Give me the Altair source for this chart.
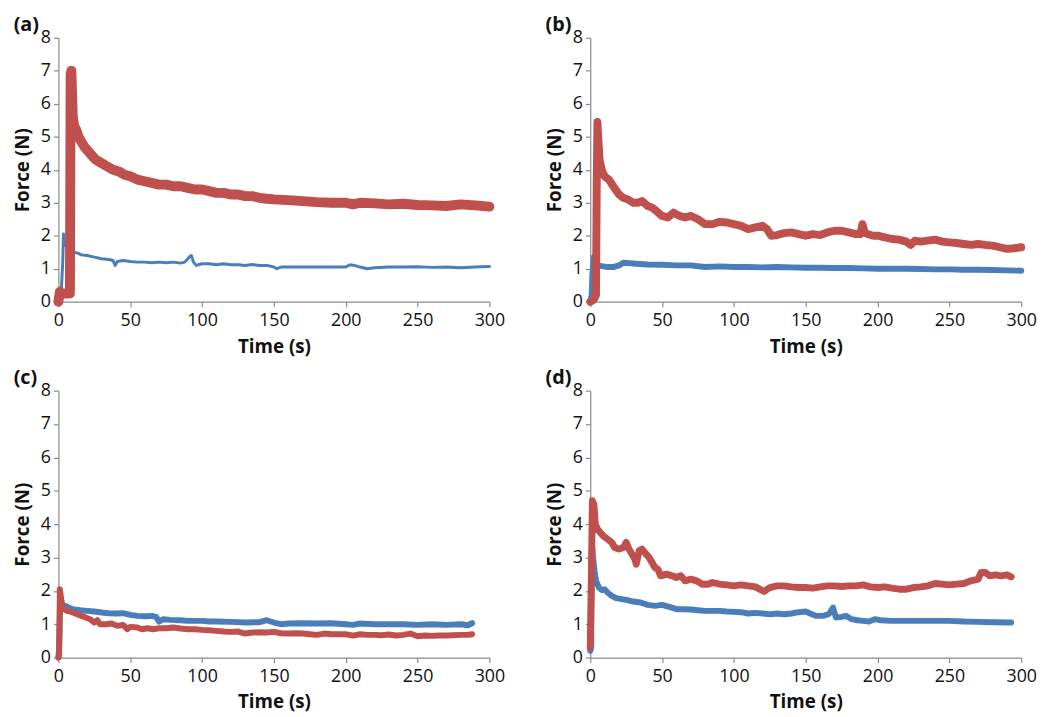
import altair as alt
import pandas as pd

RED = "#c0504d"
BLUE = "#4a7ebb"
FONT = "Open Sans"

x_ticks = [0, 50, 100, 150, 200, 250, 300]
y_ticks = [0, 1, 2, 3, 4, 5, 6, 7, 8]
labels = ["(a)", "(b)", "(c)", "(d)"]

# (time s, force N) pairs
red_a = [(0,0),(1,0.3),(2,0.25),(8,0.25),(8.5,6.9),(9,7.0),(10,5.6),(11,5.3),(12,5.25),(14,5.0),(16,4.85),(18,4.7),
         (20,4.6),(23,4.45),(26,4.3),(30,4.2),(34,4.1),(38,4.0),(42,3.95),(46,3.85),(50,3.8),(55,3.7),(60,3.65),
         (65,3.6),(70,3.55),(75,3.55),(80,3.5),(85,3.5),(90,3.45),(95,3.4),(100,3.4),(105,3.35),(110,3.3),(115,3.3),
         (120,3.25),(125,3.25),(130,3.2),(135,3.2),(140,3.15),(145,3.12),(150,3.1),(160,3.08),(170,3.05),(180,3.02),
         (190,3.0),(200,3.0),(205,2.95),(210,3.0),(220,2.98),(230,2.95),(240,2.97),(250,2.93),(260,2.92),(270,2.9),
         (280,2.95),(290,2.92),(300,2.88)]
blue_a = [(0,0),(1,0.3),(2,0.3),(3,1.2),(3.5,2.05),(4,1.9),(5,1.7),(6,1.65),(8,1.55),(10,1.5),(13,1.48),(16,1.42),
          (20,1.4),(25,1.35),(30,1.3),(35,1.28),(38,1.25),(39.5,1.1),(41,1.22),(45,1.25),(50,1.22),(55,1.2),(60,1.2),
          (65,1.18),(70,1.2),(75,1.18),(80,1.2),(85,1.17),(88,1.2),(91,1.35),(92.5,1.4),(94,1.2),(96,1.1),(100,1.15),
          (105,1.15),(110,1.12),(115,1.15),(120,1.12),(125,1.12),(130,1.1),(135,1.13),(140,1.1),(145,1.1),(150,1.05),
          (152,1.0),(155,1.05),(160,1.05),(170,1.05),(180,1.05),(190,1.05),(200,1.05),(203,1.12),(206,1.1),(210,1.05),
          (215,1.0),(220,1.03),(230,1.05),(240,1.05),(250,1.06),(260,1.04),(270,1.05),(280,1.03),(290,1.05),(300,1.07)]

red_b = [(0,0),(2,0.05),(3,0.1),(4,0.2),(4.5,3.5),(5,5.45),(5.5,5.0),(6.5,4.3),(8,4.0),(10,3.8),(13,3.7),(16,3.5),
         (20,3.25),(23,3.15),(26,3.1),(30,3.0),(33,3.0),(36,3.05),(40,2.9),(43,2.85),(46,2.75),(50,2.6),(54,2.55),
         (58,2.7),(62,2.6),(66,2.55),(70,2.6),(75,2.5),(80,2.35),(85,2.35),(90,2.42),(95,2.4),(100,2.35),(105,2.3),
         (110,2.2),(115,2.25),(120,2.3),(123,2.2),(126,2.0),(130,2.02),(135,2.08),(140,2.1),(145,2.05),(150,2.0),
         (155,2.05),(160,2.02),(165,2.1),(170,2.15),(175,2.15),(180,2.1),(185,2.05),(188,2.05),(189.5,2.35),(191,2.1),
         (193,2.05),(197,2.0),(200,2.0),(205,1.95),(210,1.9),(215,1.88),(220,1.82),(223,1.72),(226,1.85),(230,1.82),
         (235,1.85),(240,1.88),(245,1.82),(250,1.8),(255,1.78),(260,1.75),(265,1.72),(270,1.75),(275,1.72),(280,1.7),
         (285,1.65),(290,1.6),(295,1.62),(300,1.65)]
blue_b = [(0,0),(1,0.2),(1.5,0.8),(2.5,1.35),(3.5,1.2),(5,1.1),(8,1.08),(12,1.05),(16,1.05),(20,1.1),(23,1.18),
          (27,1.17),(32,1.15),(40,1.13),(50,1.12),(60,1.1),(70,1.1),(80,1.05),(90,1.07),(100,1.05),(110,1.05),
          (120,1.04),(130,1.05),(140,1.04),(150,1.03),(160,1.03),(170,1.02),(180,1.02),(190,1.01),(200,1.0),(210,1.0),
          (220,1.0),(230,0.99),(240,0.98),(250,0.98),(260,0.97),(270,0.97),(280,0.96),(290,0.95),(300,0.94)]

red_c = [(0,0),(0.5,0.1),(1,2.05),(1.8,1.8),(2.5,1.5),(4,1.45),(6,1.4),(8,1.38),(10,1.35),(13,1.3),(16,1.25),
         (19,1.2),(22,1.15),(25,1.05),(27,1.12),(29,1.0),(33,1.0),(37,1.02),(41,0.95),(45,0.98),(48,0.85),(50,0.92),
         (55,0.9),(58,0.85),(62,0.88),(66,0.85),(70,0.88),(75,0.88),(80,0.9),(85,0.87),(90,0.85),(95,0.85),(100,0.83),
         (105,0.82),(110,0.8),(115,0.78),(120,0.77),(125,0.78),(130,0.72),(135,0.75),(140,0.76),(145,0.75),(150,0.77),
         (155,0.73),(160,0.72),(165,0.73),(170,0.72),(175,0.7),(180,0.68),(185,0.72),(190,0.7),(200,0.7),(205,0.66),
         (210,0.7),(215,0.68),(220,0.68),(225,0.67),(230,0.69),(235,0.66),(240,0.68),(245,0.72),(250,0.64),(255,0.66),
         (260,0.65),(265,0.66),(270,0.66),(275,0.67),(280,0.68),(285,0.68),(288,0.7)]
blue_c = [(0,0),(0.5,0.3),(1.2,1.6),(2,1.7),(3,1.55),(5,1.55),(7,1.5),(10,1.45),(15,1.42),(20,1.4),(25,1.38),
          (30,1.35),(35,1.33),(40,1.32),(45,1.33),(50,1.28),(55,1.25),(60,1.24),(65,1.25),(68,1.22),(70,1.08),
          (73,1.15),(78,1.13),(85,1.12),(90,1.1),(95,1.1),(100,1.1),(105,1.08),(110,1.08),(120,1.07),(130,1.05),
          (140,1.06),(145,1.12),(150,1.05),(155,1.0),(160,1.02),(170,1.03),(180,1.02),(190,1.03),(200,1.0),(205,0.98),
          (210,1.02),(220,1.0),(230,1.0),(240,1.0),(250,0.98),(260,1.0),(270,0.98),(280,1.0),(285,0.97),(288,1.03)]

red_d = [(0,0.3),(0.8,2.5),(1.5,4.7),(2.5,4.6),(3.5,4.0),(5,3.85),(7,3.75),(9,3.65),(12,3.55),(15,3.45),(17,3.3),
         (20,3.25),(23,3.3),(25,3.45),(27,3.25),(29,3.1),(31,2.95),(32,2.8),(34,3.2),(36,3.25),(39,3.1),(41,3.0),
         (43,2.85),(45,2.7),(47,2.65),(49,2.45),(53,2.5),(57,2.45),(60,2.4),(63,2.45),(66,2.3),(70,2.35),(74,2.3),
         (78,2.2),(82,2.2),(85,2.25),(90,2.2),(95,2.18),(100,2.15),(105,2.18),(110,2.15),(115,2.12),(118,2.05),
         (121,1.98),(125,2.1),(130,2.15),(135,2.15),(140,2.12),(145,2.1),(150,2.1),(155,2.08),(160,2.12),(165,2.15),
         (170,2.15),(175,2.13),(180,2.15),(185,2.15),(190,2.18),(195,2.12),(200,2.1),(205,2.12),(210,2.08),(215,2.05),
         (220,2.05),(225,2.1),(230,2.12),(235,2.15),(240,2.22),(245,2.2),(250,2.18),(255,2.2),(260,2.22),(265,2.3),
         (270,2.35),(272,2.55),(275,2.55),(278,2.45),(282,2.48),(286,2.45),(290,2.48),(293,2.42)]
blue_d = [(0,0.2),(0.6,0.3),(1.2,3.4),(2,3.0),(3,2.6),(4,2.3),(6,2.1),(8,2.02),(10,2.05),(12,1.95),(15,1.85),
          (18,1.78),(22,1.75),(26,1.72),(30,1.68),(35,1.65),(40,1.58),(45,1.55),(50,1.58),(55,1.52),(60,1.45),
          (65,1.45),(70,1.44),(75,1.42),(80,1.4),(85,1.4),(90,1.4),(95,1.38),(100,1.37),(105,1.36),(110,1.32),
          (115,1.34),(120,1.32),(125,1.3),(130,1.32),(135,1.3),(140,1.32),(145,1.36),(150,1.38),(153,1.32),(157,1.25),
          (162,1.25),(166,1.3),(169,1.5),(171,1.2),(175,1.22),(178,1.25),(182,1.15),(186,1.12),(190,1.1),(194,1.08),
          (198,1.15),(202,1.12),(210,1.1),(220,1.1),(230,1.1),(240,1.1),(250,1.1),(260,1.08),(270,1.07),(280,1.06),
          (293,1.05)]

W = 436


def frame(pairs):
    return pd.DataFrame(pairs, columns=["t", "f"])


def panel(label, red, blue, red_w, blue_w, h):
    x = alt.X("t:Q", scale=alt.Scale(domain=[0, 300], nice=False),
              axis=alt.Axis(values=x_ticks, title="Time (s)", labelFlush=False))
    y = alt.Y("f:Q", scale=alt.Scale(domain=[0, 8], nice=False),
              axis=alt.Axis(values=y_ticks, title="Force (N)", labelFlush=False))
    lb = alt.Chart(frame(blue)).mark_line(color=BLUE, strokeWidth=blue_w,
                                          strokeJoin="round", strokeCap="round").encode(x=x, y=y)
    lr = alt.Chart(frame(red)).mark_line(color=RED, strokeWidth=red_w,
                                         strokeJoin="round", strokeCap="round").encode(x=x, y=y)
    return alt.layer(lb, lr).properties(
        width=W, height=h,
        title=alt.TitleParams(label, anchor="start", frame="bounds", fontSize=20,
                              fontWeight="bold", font=FONT, color="#111", offset=-6),
    )


pa = panel(labels[0], red_a, blue_a, 10, 3, 267)
pb = panel(labels[1], red_b, blue_b, 8, 6, 267)
pc = panel(labels[2], red_c, blue_c, 6, 6, 270)
pd_ = panel(labels[3], red_d, blue_d, 7, 6, 270)

chart = alt.vconcat(
    alt.hconcat(pa, pb, spacing=40),
    alt.hconcat(pc, pd_, spacing=40),
    spacing=12,
).properties(padding={"left": 5, "top": 3, "right": 5, "bottom": 0}).configure_view(stroke=None).configure_axis(
    grid=False,
    domainColor="#8a8a8a",
    tickColor="#8a8a8a",
    domainWidth=1.2,
    tickWidth=1.2,
    tickSize=5,
    labelFont=FONT,
    labelFontSize=18,
    labelColor="#111",
    labelPadding=3,
    titleFont=FONT,
    titleFontSize=19,
    titleFontWeight="bold",
    titleColor="#111",
).configure_axisY(titlePadding=8).configure_axisX(titlePadding=8, labelPadding=5).configure_title(font=FONT)

chart.save("out.html", embed_options={"renderer": "svg", "actions": False})
